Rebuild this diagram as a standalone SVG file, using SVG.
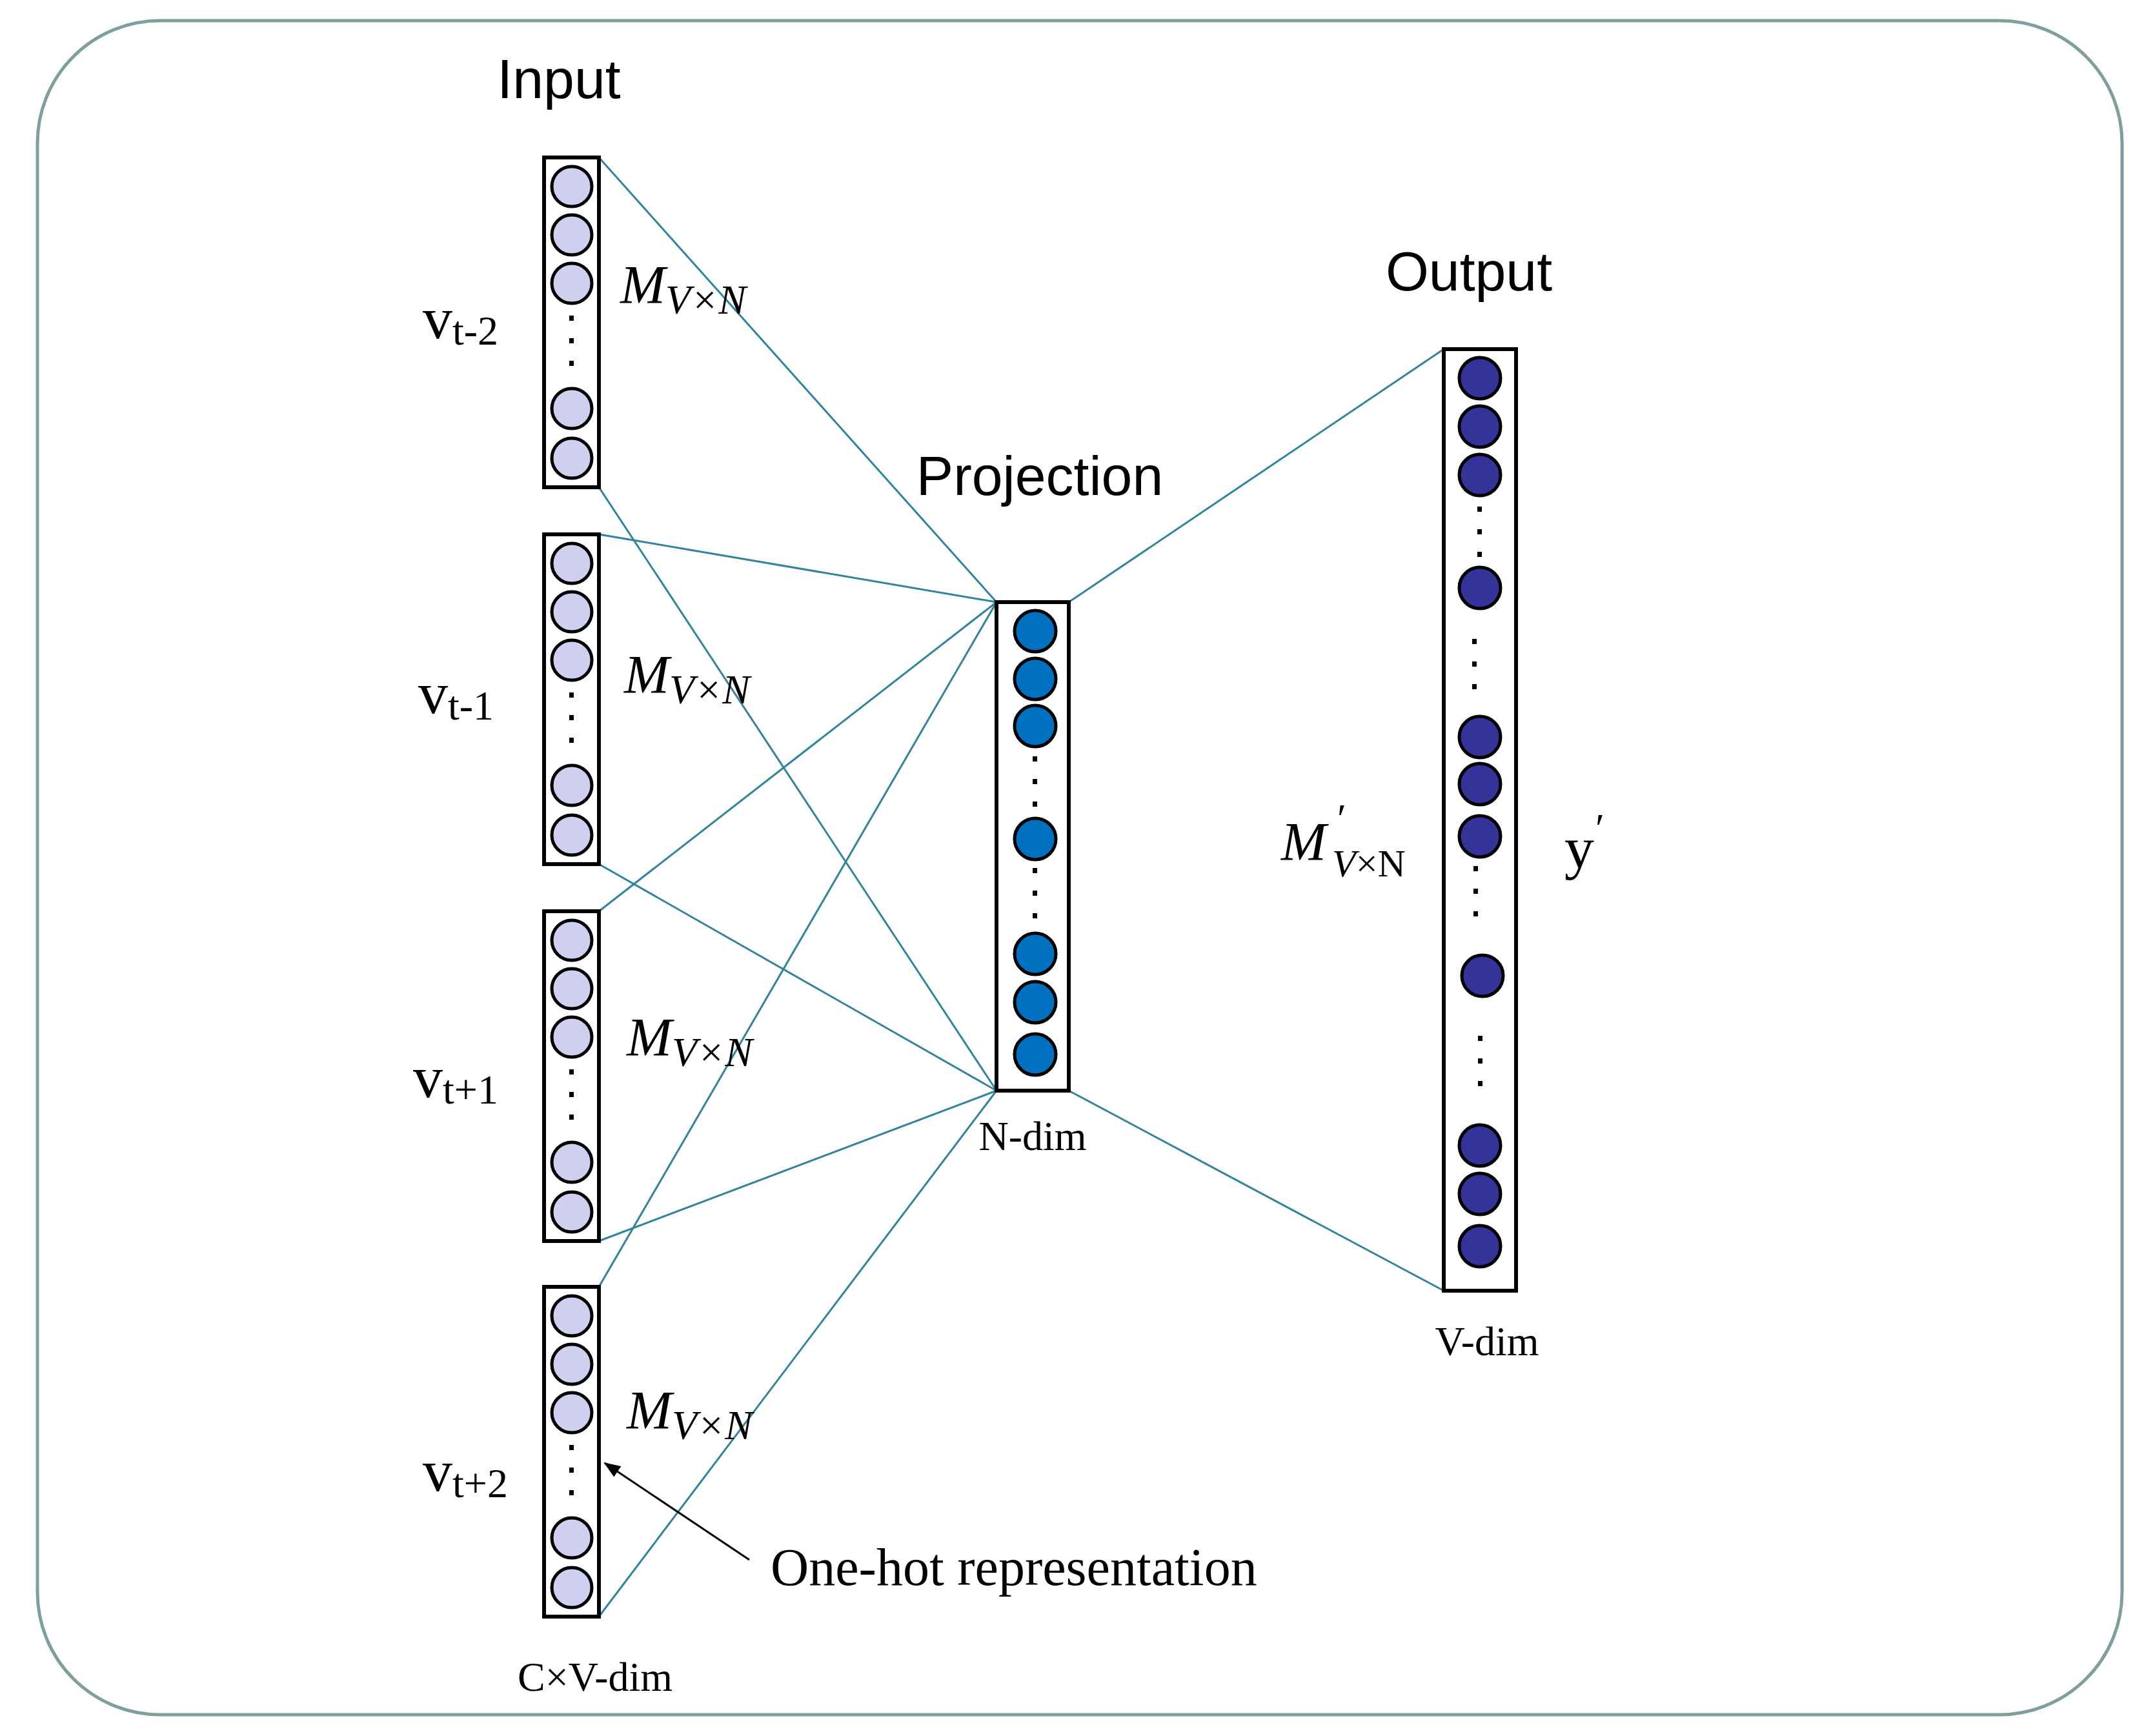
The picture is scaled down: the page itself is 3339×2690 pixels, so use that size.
<svg xmlns="http://www.w3.org/2000/svg" width="3339" height="2690" viewBox="0 0 3339 2690">
<style>
.box{fill:#fff;stroke:#000;stroke-width:6}
.in{fill:#cfcfef;stroke:#000;stroke-width:5}
.pr{fill:#0070c0;stroke:#000;stroke-width:5}
.ou{fill:#333399;stroke:#000;stroke-width:5}
.dot{fill:#000}
.conn line{stroke:#31849b;stroke-width:3}
.title{font-family:"Liberation Sans",Arial,sans-serif;font-size:86px;fill:#000}
.serif{font-family:"Liberation Serif","DejaVu Serif",serif;fill:#000}
.it{font-style:italic}
</style>
<defs>
<marker id="ah" markerWidth="26" markerHeight="20" refX="24" refY="10" orient="auto" markerUnits="userSpaceOnUse" viewBox="0 0 26 20"><path d="M0,0 L26,10 L0,20 z" fill="#000"/></marker>
<g id="inbox">
<rect class="box" x="843" y="0" width="85" height="511"/>
<circle class="in" cx="886" cy="45" r="31"/>
<circle class="in" cx="886" cy="120" r="31"/>
<circle class="in" cx="886" cy="195" r="31"/>
<rect class="dot" x="882" y="245" width="7" height="8"/>
<rect class="dot" x="882" y="280" width="7" height="8"/>
<rect class="dot" x="882" y="315" width="7" height="8"/>
<circle class="in" cx="886" cy="389" r="31"/>
<circle class="in" cx="886" cy="466" r="31"/>
</g>
</defs>
<rect x="58" y="32" width="3230" height="2625" rx="190" ry="190" fill="#fff" stroke="#7f9f9f" stroke-width="5"/>

<g id="connectors" class="conn">
<line x1="928" y1="244" x2="1544" y2="933"/>
<line x1="928" y1="755" x2="1544" y2="1690"/>
<line x1="928" y1="828" x2="1544" y2="933"/>
<line x1="928" y1="1339" x2="1544" y2="1690"/>
<line x1="928" y1="1412" x2="1544" y2="933"/>
<line x1="928" y1="1923" x2="1544" y2="1690"/>
<line x1="928" y1="1994" x2="1544" y2="933"/>
<line x1="928" y1="2505" x2="1544" y2="1690"/>
<line x1="1656" y1="933" x2="2237" y2="541"/>
<line x1="1656" y1="1690" x2="2237" y2="2000"/>
</g>

<g id="input-t-2"><use href="#inbox" y="244"/>
<text class="serif" x="655" y="524" font-size="92">v<tspan font-size="64" dy="10">t-2</tspan></text>
<text class="serif" x="961" y="470" font-size="84"><tspan class="it">M</tspan><tspan class="it" font-size="64" dy="16">V×N</tspan></text></g>
<g id="input-t-1"><use href="#inbox" y="828"/>
<text class="serif" x="648" y="1105" font-size="92">v<tspan font-size="64" dy="10">t-1</tspan></text>
<text class="serif" x="967" y="1074" font-size="84"><tspan class="it">M</tspan><tspan class="it" font-size="64" dy="16">V×N</tspan></text></g>
<g id="input-t+1"><use href="#inbox" y="1412"/>
<text class="serif" x="640" y="1700" font-size="92">v<tspan font-size="64" dy="10">t+1</tspan></text>
<text class="serif" x="971" y="1636" font-size="84"><tspan class="it">M</tspan><tspan class="it" font-size="64" dy="16">V×N</tspan></text></g>
<g id="input-t+2"><use href="#inbox" y="1994"/>
<text class="serif" x="655" y="2310" font-size="92">v<tspan font-size="64" dy="10">t+2</tspan></text>
<text class="serif" x="971" y="2214" font-size="84"><tspan class="it">M</tspan><tspan class="it" font-size="64" dy="16">V×N</tspan></text></g>

<g id="input-title"><text class="title" x="866" y="152" text-anchor="middle">Input</text>
<text class="serif" x="922" y="2620" font-size="64" text-anchor="middle">C×V-dim</text></g>

<g id="projection">
<text class="title" x="1611" y="767" text-anchor="middle">Projection</text>
<rect class="box" x="1544" y="933" width="112" height="757"/>
<circle class="pr" cx="1604" cy="978" r="32"/>
<circle class="pr" cx="1604" cy="1052" r="32"/>
<circle class="pr" cx="1604" cy="1125" r="32"/>
<rect class="dot" x="1600" y="1172" width="7" height="8"/>
<rect class="dot" x="1600" y="1207" width="7" height="8"/>
<rect class="dot" x="1600" y="1242" width="7" height="8"/>
<circle class="pr" cx="1604" cy="1300" r="32"/>
<rect class="dot" x="1600" y="1345" width="7" height="8"/>
<rect class="dot" x="1600" y="1380" width="7" height="8"/>
<rect class="dot" x="1600" y="1415" width="7" height="8"/>
<circle class="pr" cx="1604" cy="1478" r="32"/>
<circle class="pr" cx="1604" cy="1553" r="32"/>
<circle class="pr" cx="1604" cy="1634" r="32"/>
<text class="serif" x="1600" y="1782" font-size="64" text-anchor="middle">N-dim</text>
</g>

<g id="output">
<text class="title" x="2276" y="450" text-anchor="middle">Output</text>
<rect class="box" x="2237" y="541" width="112" height="1459"/>
<circle class="ou" cx="2293" cy="586" r="32"/>
<circle class="ou" cx="2293" cy="661" r="32"/>
<circle class="ou" cx="2293" cy="736" r="32"/>
<rect class="dot" x="2289" y="785" width="7" height="8"/>
<rect class="dot" x="2289" y="820" width="7" height="8"/>
<rect class="dot" x="2289" y="855" width="7" height="8"/>
<circle class="ou" cx="2293" cy="911" r="32"/>
<rect class="dot" x="2281" y="990" width="7" height="8"/>
<rect class="dot" x="2281" y="1025" width="7" height="8"/>
<rect class="dot" x="2281" y="1060" width="7" height="8"/>
<circle class="ou" cx="2293" cy="1142" r="32"/>
<circle class="ou" cx="2293" cy="1215" r="32"/>
<circle class="ou" cx="2293" cy="1296" r="32"/>
<rect class="dot" x="2283" y="1342" width="7" height="8"/>
<rect class="dot" x="2283" y="1377" width="7" height="8"/>
<rect class="dot" x="2283" y="1412" width="7" height="8"/>
<circle class="ou" cx="2297" cy="1512" r="32"/>
<rect class="dot" x="2290" y="1605" width="7" height="8"/>
<rect class="dot" x="2290" y="1640" width="7" height="8"/>
<rect class="dot" x="2290" y="1675" width="7" height="8"/>
<circle class="ou" cx="2293" cy="1775" r="32"/>
<circle class="ou" cx="2293" cy="1850" r="32"/>
<circle class="ou" cx="2293" cy="1931" r="32"/>
<text class="serif" x="2304" y="2100" font-size="64" text-anchor="middle">V-dim</text>
<text class="serif it" x="1985" y="1333" font-size="84">M</text>
<text class="serif" x="2072" y="1290" font-size="64">′</text>
<text class="serif" x="2064" y="1358" font-size="60"><tspan class="it">V</tspan>×N</text>
<text class="serif" x="2424" y="1345" font-size="92">y</text>
<text class="serif" x="2472" y="1305" font-size="64">′</text>
</g>

<g id="one-hot">
<line x1="1161" y1="2417" x2="937" y2="2267" stroke="#000" stroke-width="3" marker-end="url(#ah)"/>
<text class="serif" x="1194" y="2456" font-size="82">One-hot representation</text>
</g>
</svg>
